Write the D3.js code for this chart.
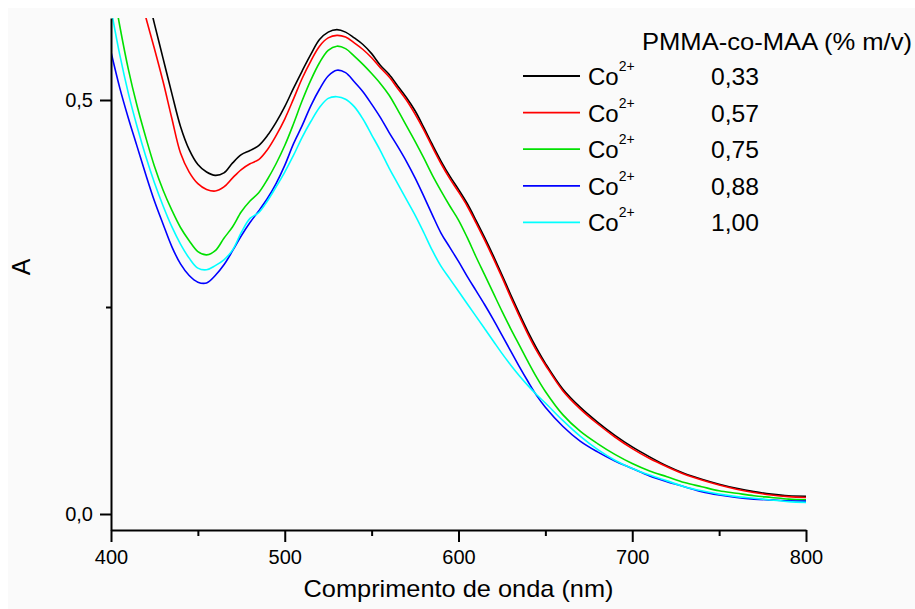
<!DOCTYPE html>
<html><head><meta charset="utf-8">
<script src="https://cdn.jsdelivr.net/npm/d3@7"></script>
<style>
body{margin:0;background:#fff}
svg{display:block}
text{font-family:"Liberation Sans",Arial,sans-serif;fill:#000}
</style>
</head><body>
<svg id="c" width="915" height="609"></svg>
<script>
// ---- data ----
const wavelengths = [400,405,410,415,420,425,430,435,440,445,450,455,460,465,470,475,480,485,490,495,
  500,505,510,515,520,525,530,535,540,545,550,555,560,565,570,575,580,585,590,595,
  600,605,610,615,620,625,630,635,640,645,650,660,670,680,690,700,710,720,730,740,750,760,770,780,790,800];

const absBlack = [0.84,0.785,0.73,0.68,0.635,0.592,0.550,0.508,0.468,0.440,0.422,0.413,0.409,0.412,0.424,0.434,0.439,0.445,0.457,0.473,
  0.492,0.514,0.535,0.555,0.573,0.582,0.585,0.582,0.575,0.567,0.556,0.542,0.531,0.517,0.503,0.487,0.467,0.446,0.426,0.408,
  0.392,0.375,0.355,0.334,0.312,0.289,0.265,0.242,0.220,0.200,0.182,0.151,0.129,0.111,0.095,0.081,0.069,0.058,0.049,0.042,0.036,0.031,0.027,0.024,0.022,0.0215];

const absRed = [0.79,0.735,0.685,0.64,0.600,0.562,0.522,0.478,0.436,0.413,0.399,0.392,0.390,0.395,0.406,0.416,0.423,0.428,0.440,0.457,
  0.477,0.501,0.526,0.547,0.565,0.575,0.578,0.576,0.569,0.561,0.551,0.539,0.528,0.514,0.500,0.483,0.464,0.443,0.423,0.405,
  0.389,0.372,0.352,0.331,0.309,0.286,0.262,0.239,0.217,0.197,0.180,0.149,0.127,0.109,0.093,0.079,0.067,0.057,0.048,0.041,0.035,0.030,0.026,0.023,0.021,0.020];

const absGreen = [0.65,0.59,0.537,0.493,0.455,0.420,0.391,0.367,0.346,0.330,0.317,0.313,0.318,0.333,0.347,0.365,0.378,0.388,0.404,0.423,
  0.445,0.471,0.499,0.524,0.545,0.560,0.565,0.562,0.553,0.543,0.532,0.520,0.506,0.488,0.469,0.450,0.430,0.409,0.390,0.372,
  0.355,0.334,0.311,0.289,0.267,0.245,0.224,0.204,0.184,0.165,0.148,0.120,0.100,0.085,0.072,0.061,0.052,0.045,0.038,0.033,0.028,0.025,0.022,0.020,0.018,0.017];

const absBlue = [0.558,0.515,0.478,0.444,0.410,0.378,0.350,0.323,0.302,0.288,0.280,0.279,0.288,0.301,0.318,0.336,0.352,0.366,0.381,0.399,
  0.421,0.447,0.469,0.493,0.513,0.529,0.536,0.533,0.522,0.510,0.495,0.479,0.461,0.444,0.426,0.406,0.384,0.361,0.339,0.322,
  0.305,0.287,0.270,0.253,0.235,0.216,0.197,0.178,0.160,0.143,0.129,0.106,0.088,0.075,0.064,0.055,0.046,0.039,0.033,0.027,0.023,0.020,0.018,0.017,0.016,0.0155];

const absCyan = [0.61,0.555,0.508,0.468,0.432,0.400,0.372,0.347,0.326,0.309,0.297,0.295,0.300,0.307,0.319,0.340,0.357,0.364,0.378,0.395,
  0.413,0.433,0.455,0.474,0.491,0.502,0.504,0.501,0.492,0.477,0.458,0.439,0.418,0.399,0.380,0.361,0.340,0.318,0.299,0.284,
  0.269,0.254,0.239,0.224,0.209,0.194,0.180,0.167,0.155,0.144,0.134,0.113,0.094,0.078,0.065,0.055,0.047,0.040,0.033,0.028,0.024,0.021,0.019,0.017,0.015,0.014];

const seriesLabels = ["0,33","0,57","0,75","0,88","1,00"];
const seriesColors = ["#000000","#ff0000","#00e000","#0000ff","#00ffff"];
const xTicks = [400,500,600,700,800];
const xMinorTicks = [450,550,650,750];
const yTicks = [0,0.5];
const yMinorTicks = [0.25];
const legendTitle = "PMMA-co-MAA (% m/v)";
const xTitle = "Comprimento de onda (nm)";
const yTitle = "A";

// ---- chart ----
const svg = d3.select("#c");
svg.append("rect").attr("x",8).attr("y",8).attr("width",907).attr("height",601).attr("fill","#fafafa");

const L=111, R=806, T=18, B=530;
const x = d3.scaleLinear().domain([400,800]).range([L,R]);
const y = d3.scaleLinear().domain([0,0.5]).range([514,100]);
const yDom = [y.invert(B), y.invert(T)];
y.domain([yDom[0], yDom[1]]).range([B,T]);

const seriesData = [absBlack,absRed,absGreen,absBlue,absCyan];

svg.append("clipPath").attr("id","clip").append("rect")
  .attr("x",L).attr("y",T).attr("width",R-L).attr("height",B-T);

const line = d3.line().x(d=>x(d[0])).y(d=>y(d[1])).curve(d3.curveCatmullRom.alpha(0.5));
const g = svg.append("g").attr("clip-path","url(#clip)");
seriesData.forEach((vals,i)=>{
  g.append("path").datum(wavelengths.map((w,j)=>[w,vals[j]]))
   .attr("d",line).attr("fill","none").attr("stroke",seriesColors[i]).attr("stroke-width",1.6);
});

const comma = d => d3.format(".1f")(d).replace(".",",");

// x axis
svg.append("g").attr("transform",`translate(0,${B})`)
  .call(d3.axisBottom(x).tickValues(xTicks).tickSize(12).tickSizeOuter(0).tickPadding(8).tickFormat(d3.format("d")));
svg.append("g").attr("transform",`translate(0,${B})`)
  .call(d3.axisBottom(x).tickValues(xMinorTicks).tickSize(6).tickSizeOuter(0).tickFormat(""))
  .select(".domain").remove();
// y axis
svg.append("g").attr("transform",`translate(${L},0)`)
  .call(d3.axisLeft(y).tickValues(yTicks).tickSize(11).tickSizeOuter(0).tickPadding(7).tickFormat(comma));
svg.append("g").attr("transform",`translate(${L},0)`)
  .call(d3.axisLeft(y).tickValues(yMinorTicks).tickSize(5).tickSizeOuter(0).tickFormat(""))
  .select(".domain").remove();

svg.selectAll(".domain").attr("stroke","#000").attr("stroke-width",2);
svg.selectAll(".tick line").attr("stroke","#000").attr("stroke-width",2);
svg.selectAll(".tick text").attr("font-size",20).attr("font-family",'"Liberation Sans",Arial,sans-serif').attr("fill","#000");

// titles
svg.append("text").attr("x",(L+R)/2).attr("y",597).attr("text-anchor","middle")
  .attr("font-size",24).attr("textLength",310).attr("lengthAdjust","spacingAndGlyphs").text(xTitle);
svg.append("text").attr("transform","translate(30,267) rotate(-90)").attr("text-anchor","middle")
  .attr("font-size",25).text(yTitle);

// legend
svg.append("text").attr("x",642).attr("y",50).attr("font-size",24)
  .attr("textLength",270).attr("lengthAdjust","spacingAndGlyphs").text(legendTitle);
seriesLabels.forEach((lab,i)=>{
  const yy = 76 + i*36.6;
  svg.append("line").attr("x1",523).attr("x2",580).attr("y1",yy).attr("y2",yy)
    .attr("stroke",seriesColors[i]).attr("stroke-width",1.8);
  const t = svg.append("text").attr("x",588).attr("y",yy+9).attr("font-size",24);
  t.append("tspan").text("Co");
  t.append("tspan").attr("font-size",14).attr("dy",-14).text("2+");
  svg.append("text").attr("x",759).attr("y",yy+9).attr("text-anchor","end").attr("font-size",24)
    .attr("textLength",48).attr("lengthAdjust","spacingAndGlyphs").text(lab);
});
</script>
</body></html>
